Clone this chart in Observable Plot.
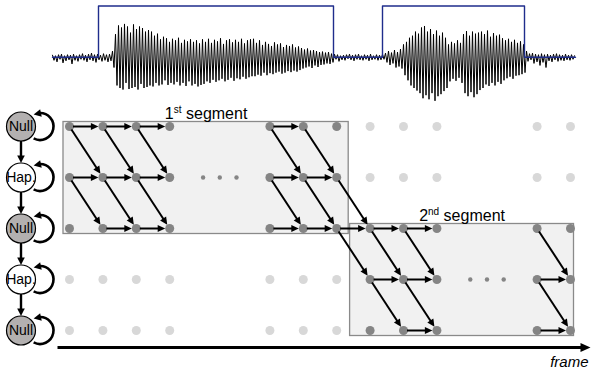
<!DOCTYPE html>
<html><head><meta charset="utf-8">
<script src="https://cdn.jsdelivr.net/npm/d3@7"></script>
<script src="https://cdn.jsdelivr.net/npm/@observablehq/plot@0.6"></script>
<style>
body{margin:0;background:#fff;}
#chart{width:591px;height:372px;font-family:"Liberation Sans",Arial,sans-serif;}
#chart svg{display:block;}
</style></head><body><div id="chart"></div>
<script>
// ---------- waveform data (signed amplitude, one sample every 3 ms) ----------
const waveStepMs = 3;
const wave = [
  // leading noise
  0.04,-0.06,0.03,-0.09,0.05,-0.04,0.06,-0.11,0.03,-0.07,0.05,-0.05,0.04,-0.13,0.06,-0.06,0.03,-0.08,0.05,-0.04,
  0.07,-0.06,0.04,-0.09,0.06,-0.05,0.08,-0.07,0.05,-0.1,0.06,-0.05,0.04,-0.08,0.07,-0.06,0.05,-0.09,0.06,-0.07,
  // first utterance
  0.12,-0.2,0.45,-0.55,0.62,-0.6,0.58,-0.63,0.65,-0.5,0.6,-0.62,0.48,-0.6,0.64,-0.58,0.55,-0.63,0.6,-0.52,0.57,-0.6,0.5,-0.58,0.53,-0.55,
  0.5,-0.57,0.42,-0.5,0.46,-0.55,0.35,-0.53,0.4,-0.45,0.37,-0.54,0.3,-0.5,0.36,-0.53,0.33,-0.48,0.38,-0.55,0.28,-0.5,0.34,-0.56,0.31,-0.47,0.35,-0.55,0.3,-0.52,0.33,-0.57,0.27,-0.54,
  0.35,-0.52,0.3,-0.47,0.36,-0.5,0.28,-0.44,0.34,-0.48,0.31,-0.45,0.37,-0.42,0.26,-0.47,0.33,-0.44,0.35,-0.4,0.29,-0.46,0.34,-0.41,0.3,-0.43,0.36,-0.38,0.27,-0.42,0.33,-0.39,0.35,-0.37,
  0.36,-0.37,0.28,-0.34,0.33,-0.36,0.24,-0.3,0.3,-0.35,0.26,-0.31,0.22,-0.33,0.29,-0.3,0.25,-0.28,0.27,-0.32,0.2,-0.3,0.24,-0.27,0.22,-0.29,0.25,-0.26,0.19,-0.28,0.21,-0.25,
  0.18,-0.22,0.15,-0.2,0.17,-0.18,0.13,-0.21,0.14,-0.16,0.12,-0.19,0.1,-0.15,0.11,-0.14,0.09,-0.12,0.1,-0.13,0.07,-0.1,
  // pause
  0.06,-0.04,0.05,-0.08,0.03,-0.05,0.04,-0.06,0.05,-0.03,0.06,-0.05,0.04,-0.07,0.05,-0.04,0.06,-0.05,0.03,-0.06,0.05,-0.04,0.04,-0.07,0.06,-0.05,0.03,-0.04,0.05,-0.06,0.04,-0.05,0.06,-0.04,
  // second utterance
  0.08,-0.1,0.12,-0.15,0.09,-0.12,0.14,-0.2,0.1,-0.18,0.16,-0.22,
  0.25,-0.35,0.3,-0.45,0.38,-0.55,0.42,-0.6,0.5,-0.65,0.46,-0.7,
  0.58,-0.8,0.61,-0.74,0.5,-0.82,0.55,-0.7,0.45,-0.85,0.52,-0.76,0.42,-0.72,0.48,-0.66,0.38,-0.6,
  0.25,-0.47,0.3,-0.42,0.27,-0.46,0.33,-0.4,0.28,-0.5,
  0.45,-0.7,0.51,-0.76,0.42,-0.68,0.5,-0.78,0.46,-0.72,0.48,-0.64,
  0.5,-0.6,0.45,-0.53,0.52,-0.56,0.4,-0.5,0.47,-0.55,0.42,-0.48,0.44,-0.52,
  0.37,-0.45,0.33,-0.41,0.36,-0.38,0.3,-0.42,0.34,-0.36,0.28,-0.35,0.31,-0.33,0.25,-0.3,
  // trailing noise
  0.12,-0.08,0.07,-0.05,0.08,-0.12,0.06,-0.09,0.05,-0.16,0.07,-0.1,0.05,-0.2,0.06,-0.07,0.04,-0.09,0.06,-0.05,0.07,-0.08,0.05,-0.06,0.04,-0.07,0.06,-0.05,0.04,-0.06,0.05,-0.04,0.03
];
const speechOn = [92, 660];     // ms
const speechOff = [562, 944];   // ms
const durationMs = 1046;

// ---------- lattice data ----------
const states = ["Null", "Hap.", "Null", "Hap.", "Null"];
const frames = [0, 1, 2, 3, 6, 7, 8, 9, 10, 11, 14, 15];
const segFirst = [0, 9];
const segLast = [8, 15];
const segTop = [0, 2];
const segOrdinal = ["1", "2"];
const segSuffix = ["st", "nd"];
const gapFirst = [4, 12];
const gapLast = [5, 13];
// same-state transitions (frame f, state s) -> (f+1, s)
const stayFrame = [0,1,2,6, 0,1,2,6,7, 1,2,6,7,8,9,10, 9,10,14, 10,14];
const stayState = [0,0,0,0, 1,1,1,1,1, 2,2,2,2,2,2,2, 3,3,3, 4,4];
// next-state transitions (f, s) -> (f+1, s+1)
const moveFrame = [0,1,2,6,7, 0,1,2,6,7,8, 8,9,10,14, 9,10,14];
const moveState = [0,0,0,0,0, 1,1,1,1,1,1, 2,2,2,2, 3,3,3];
const axisLabel = "frame";

// ---------- layout ----------
const W = 591, waveH = 105, latH = 267;
const XR = [69, 570], YR = [21, 225];
const PX_COL = (XR[1] - XR[0]) / 15, PX_ROW = (YR[1] - YR[0]) / 4;
const DARK = "#858585", LIGHT = "#d8d8d8";
const FONT = "Liberation Sans, Arial, Helvetica, sans-serif";

// waveform plot
const waveData = wave.map((v, i) => ({t: i * waveStepMs, v}));
const vad = [{t: 0, v: 0}];
speechOn.forEach((on, i) => {
  vad.push({t: on, v: 0}, {t: on, v: 1}, {t: speechOff[i], v: 1}, {t: speechOff[i], v: 0});
});
vad.push({t: durationMs, v: 0});

const wavePlot = Plot.plot({
  width: W, height: waveH, margin: 0,
  style: {background: "transparent", fontFamily: FONT},
  x: {domain: [0, 1050], range: [52, 577], axis: null},
  y: {domain: [-1, 1], range: [108, 5.5], axis: null},
  marks: [
    Plot.line(waveData, {x: "t", y: "v", stroke: "#000", strokeWidth: 1}),
    Plot.line(vad, {x: "t", y: "v", stroke: "#1f2d8c", strokeWidth: 1.4})
  ]
});

// lattice geometry helpers
function arrowGeom(c0, r0, c1, r1, insetStart, insetEnd, headLen) {
  const dx = (c1 - c0) * PX_COL, dy = (r1 - r0) * PX_ROW;
  const L = Math.hypot(dx, dy), ux = dx / L, uy = dy / L;
  return {
    x1: c0 + insetStart * ux / PX_COL, y1: r0 + insetStart * uy / PX_ROW,
    x2: c1 - (insetEnd + headLen - 1.5) * ux / PX_COL, y2: r1 - (insetEnd + headLen - 1.5) * uy / PX_ROW,
    tx: c1 - insetEnd * ux / PX_COL, ty: r1 - insetEnd * uy / PX_ROW,
    angle: Math.atan2(dy, dx) * 180 / Math.PI
  };
}
function headSymbol(len, half) {
  return {draw(ctx) { ctx.moveTo(0, 0); ctx.lineTo(-len, -half); ctx.lineTo(-len, half); ctx.closePath(); }};
}
const smallHead = headSymbol(7.5, 3.6);
const stateHead = headSymbol(7.5, 3.8);
const axisHead = headSymbol(10, 4.5);

const rad = d => d * Math.PI / 180;
const LC = 19, LR = 13.5; // self-loop circle offset & radius (px)
const loopSym = {draw(ctx) {
  ctx.moveTo(LC + LR * Math.cos(rad(118)), LR * Math.sin(rad(118)));
  ctx.arc(LC, 0, LR, rad(118), rad(-94), true);
}};
const loopHeadSym = {draw(ctx) {
  const tx = LC + LR * Math.cos(rad(-118)), ty = LR * Math.sin(rad(-118));
  const bx = LC + LR * Math.cos(rad(-86)), by = LR * Math.sin(rad(-86));
  const dx = tx - bx, dy = ty - by, L = Math.hypot(dx, dy);
  const px = -dy / L * 3.8, py = dx / L * 3.8;
  ctx.moveTo(tx, ty); ctx.lineTo(bx + px, by + py); ctx.lineTo(bx - px, by - py); ctx.closePath();
}};

// nodes
const nodes = [];
frames.forEach(f => states.forEach((st, s) => {
  const active = segFirst.some((a, i) => f >= a && f <= segLast[i] && s >= segTop[i] && s <= segTop[i] + 2);
  nodes.push({f, s, active});
}));
const ellipsis = [];
gapFirst.forEach((g, i) => {
  [g, (g + gapLast[i]) / 2, gapLast[i]].forEach(f => ellipsis.push({f, s: segTop[i] + 1}));
});
const arrows = [
  ...stayFrame.map((f, i) => arrowGeom(f, stayState[i], f + 1, stayState[i], 3.5, 4.5, 7.5)),
  ...moveFrame.map((f, i) => arrowGeom(f, moveState[i], f + 1, moveState[i] + 1, 3.5, 4.5, 7.5))
];
const segIdx = segFirst.map((_, i) => i);
const padL = [6, 20], padR = [12, 3.5];
const boxes = segIdx.map(i => ({
  x1: segFirst[i] - padL[i] / PX_COL, x2: segLast[i] + padR[i] / PX_COL,
  y1: segTop[i] - 4.5 / PX_ROW, y2: segTop[i] + 2 + 5.5 / PX_ROW,
  label: segOrdinal[i] + segSuffix[i] + " segment"
}));

const stateCol = -48.5 / PX_COL;
const stateData = states.map((name, i) => ({name, i}));
const stateArrows = states.slice(1).map((_, i) => arrowGeom(stateCol, i, stateCol, i + 1, 14.5, 14.5, 7.5));

const axisY = 4 + 17 / PX_ROW;
const axisX1 = -12 / PX_COL, axisTip = 15 + 20 / PX_COL;

const latticePlot = Plot.plot({
  width: W, height: latH, margin: 0,
  style: {background: "transparent", fontFamily: FONT, color: "#000"},
  x: {domain: [0, 15], range: XR, axis: null},
  y: {domain: [0, 4], range: YR, axis: null},
  marks: [
    Plot.rect(boxes, {x1: "x1", x2: "x2", y1: "y1", y2: "y2", fill: "#f1f1f1", stroke: "#8a8a8a", strokeWidth: 1.3}),
    Plot.text(boxes, {x: d => (d.x1 + d.x2) / 2, y: "y1", text: "label", fontSize: 16, fill: "#000",
      textAnchor: "middle", lineAnchor: "bottom", dy: -3.5}),
    Plot.dot(nodes, {filter: d => !d.active, x: "f", y: "s", r: 4.5, fill: LIGHT, stroke: "none"}),
    Plot.dot(nodes, {filter: d => d.active, x: "f", y: "s", r: 4.5, fill: DARK, stroke: "none"}),
    Plot.dot(ellipsis, {x: "f", y: "s", r: 2.2, fill: DARK, stroke: "none"}),
    Plot.link(arrows, {x1: "x1", y1: "y1", x2: "x2", y2: "y2", stroke: "#000", strokeWidth: 2}),
    Plot.dot(arrows, {x: "tx", y: "ty", rotate: "angle", symbol: smallHead, fill: "#000", stroke: "none", r: 4}),
    // state machine
    Plot.dot(stateData, {x: () => stateCol, y: "i", symbol: loopSym, fill: "none", stroke: "#000", strokeWidth: 2.6, r: 4}),
    Plot.dot(stateData, {x: () => stateCol, y: "i", symbol: loopHeadSym, fill: "#000", stroke: "none", r: 4}),
    Plot.link(stateArrows, {x1: "x1", y1: "y1", x2: "x2", y2: "y2", stroke: "#000", strokeWidth: 2.4}),
    Plot.dot(stateArrows, {x: "tx", y: "ty", rotate: "angle", symbol: stateHead, fill: "#000", stroke: "none", r: 4}),
    Plot.dot(stateData, {x: () => stateCol, y: "i", r: 14.5,
      fill: d => d.name === "Null" ? "#b3b0b0" : "#ffffff", stroke: "#000", strokeWidth: 1.2}),
    Plot.text(stateData, {x: () => stateCol, y: "i", text: "name", fontSize: 14, fill: "#000"}),
    // frame axis
    Plot.link([0], {x1: () => axisX1, x2: () => axisTip - 8 / PX_COL, y1: () => axisY, y2: () => axisY, stroke: "#000", strokeWidth: 2.8}),
    Plot.dot([0], {x: () => axisTip, y: () => axisY, symbol: axisHead, fill: "#000", stroke: "none", r: 4}),
    Plot.text([axisLabel], {x: () => 15 + 18 / PX_COL, y: () => 4 + 36 / PX_ROW, text: d => d, fontSize: 15,
      fontStyle: "italic", textAnchor: "end", lineAnchor: "bottom", fill: "#000"})
  ],
  color: {type: "identity"}
});

// superscript ordinals in segment labels
d3.select(latticePlot).selectAll("text").each(function () {
  const m = this.textContent.match(/^(\d)(st|nd|rd|th) (.*)$/);
  if (!m) return;
  const t = d3.select(this);
  t.text(null);
  t.append("tspan").text(m[1]);
  t.append("tspan").attr("font-size", 10).attr("dy", -5.5).text(m[2]);
  t.append("tspan").attr("dy", 5.5).text(" " + m[3]);
});

const chart = document.getElementById("chart");
chart.appendChild(wavePlot);
chart.appendChild(latticePlot);
</script></body></html>
